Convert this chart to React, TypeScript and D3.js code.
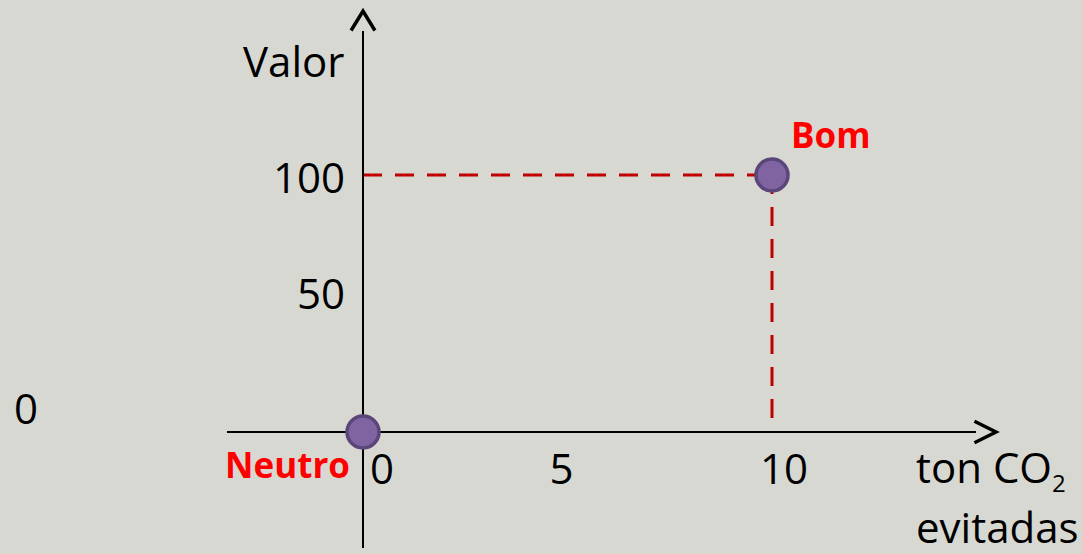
import { scaleLinear } from 'd3';

// chart data
const pointNames = ['Neutro', 'Bom'];
const pointX = [0, 10];
const pointY = [0, 100];
const xTicks = [0, 5, 10];
const yTicks = [0, 50, 100];

const W = 1083;
const H = 554;
const FONT = '"Open Sans", "Liberation Sans", sans-serif';

// the tick labels are nudged off their tick, like in the slide
const xTickOffsets = [19, -6, 12];

// placement of the point labels, per point
const labelPlacement = [
    { dx: -13, dy: 46, anchor: 'end' },
    { dx: 19, dy: -27, anchor: 'start' },
];

export default function App() {
    // data scales
    const xScale = scaleLinear().domain([0, 10]).range([363, 772]);
    const yScale = scaleLinear().domain([0, 100]).range([432, 175]);
    // the value labels sit on their own, evenly spaced
    const yLabelScale = scaleLinear().domain([0, 100]).range([424, 193]);

    const x0 = xScale(0);
    const y0 = yScale(0);

    return (
        <div style={{ position: 'absolute', left: 0, top: 0 }}>
            <svg width={W} height={H} style={{ display: 'block', fontFamily: FONT }}>
                <rect width={W} height={H} fill="#d8d8d3" />

                {/* dashed guides to the "Bom" point */}
                {pointX.map((px, i) =>
                    pointY[i] === 0 ? null : (
                        <g key={'guide' + i} stroke="#c00000" strokeWidth={3} strokeDasharray="19 13" fill="none">
                            <line x1={x0} y1={yScale(pointY[i])} x2={xScale(px)} y2={yScale(pointY[i])} />
                            <line x1={xScale(px)} y1={yScale(pointY[i])} x2={xScale(px)} y2={y0} />
                        </g>
                    )
                )}

                {/* axes */}
                <g stroke="#000" fill="none" strokeWidth={2}>
                    <line x1={227} y1={y0} x2={976} y2={y0} />
                    <line x1={x0} y1={31} x2={x0} y2={548} />
                </g>
                <g stroke="#000" fill="none" strokeWidth={3.5} strokeLinecap="square">
                    <path d={`M${x0 - 11},29 L${x0},11 L${x0 + 11},29`} />
                    <path d={`M976,${y0 - 10} L996,${y0} L976,${y0 + 10}`} />
                </g>

                {/* axis titles */}
                <text x={243} y={77} fontSize={42} fill="#000">Valor</text>
                <text x={916} y={483} fontSize={42} fill="#000">
                    ton CO<tspan fontSize={24} dy={9}>2</tspan>
                </text>
                <text x={916} y={543} fontSize={42} fill="#000">evitadas</text>

                {/* tick labels */}
                {xTicks.map((v, i) => (
                    <text key={'xt' + v} x={xScale(v) + xTickOffsets[i]} y={484}
                        fontSize={42} textAnchor="middle" fill="#000">{v}</text>
                ))}
                {yTicks.map((v) => (
                    <text key={'yt' + v} x={v === 0 ? 14 : 345} y={yLabelScale(v)}
                        fontSize={42} textAnchor={v === 0 ? 'start' : 'end'} fill="#000">{v}</text>
                ))}

                {/* points */}
                {pointX.map((px, i) => (
                    <circle key={'pt' + i} cx={xScale(px)} cy={yScale(pointY[i])} r={16}
                        fill="#8064a2" stroke="#5a4679" strokeWidth={3.5} />
                ))}
                {pointNames.map((name, i) => (
                    <text key={'lb' + i} x={xScale(pointX[i]) + labelPlacement[i].dx}
                        y={yScale(pointY[i]) + labelPlacement[i].dy}
                        textAnchor={labelPlacement[i].anchor} fontSize={35} fontWeight="bold" fill="#ff0000">
                        {name}
                    </text>
                ))}
            </svg>
        </div>
    );
}
